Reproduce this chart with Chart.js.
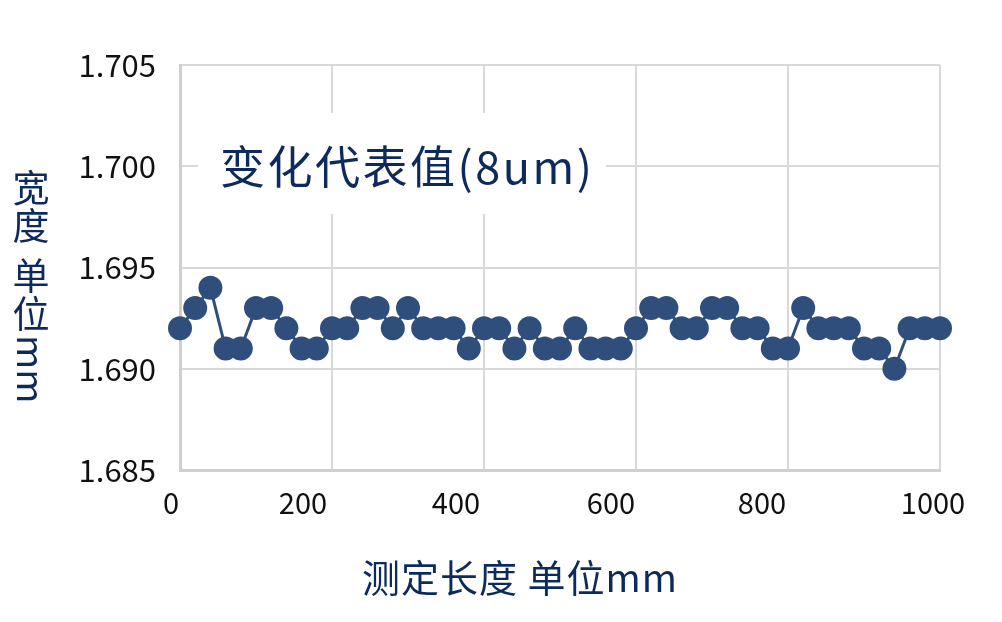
<!DOCTYPE html>
<html>
<head>
<meta charset="utf-8">
<script src="https://cdn.jsdelivr.net/npm/chart.js@4/dist/chart.umd.min.js"></script>
<style>
  html, body { margin: 0; padding: 0; background: #fff; }
  #wrap { width: 1002px; height: 622px; }
</style>
</head>
<body>
<div id="wrap"><canvas id="chart" width="1002" height="622"></canvas></div>
<script>
// measurement positions (mm) and width readings (mm)
const positions = [
  0, 20, 40, 60, 80, 100, 120, 140, 160, 180,
  200, 220, 240, 260, 280, 300, 320, 340, 360, 380,
  400, 420, 440, 460, 480, 500, 520, 540, 560, 580,
  600, 620, 640, 660, 680, 700, 720, 740, 760, 780,
  800, 820, 840, 860, 880, 900, 920, 940, 960, 980, 1000
];
const widths = [
  1.692, 1.693, 1.694, 1.691, 1.691, 1.693, 1.693, 1.692, 1.691, 1.691,
  1.692, 1.692, 1.693, 1.693, 1.692, 1.693, 1.692, 1.692, 1.692, 1.691,
  1.692, 1.692, 1.691, 1.692, 1.691, 1.691, 1.692, 1.691, 1.691, 1.691,
  1.692, 1.693, 1.693, 1.692, 1.692, 1.693, 1.693, 1.692, 1.692, 1.691,
  1.691, 1.693, 1.692, 1.692, 1.692, 1.691, 1.691, 1.690, 1.692, 1.692, 1.692
];
const xTicks = [0, 200, 400, 600, 800, 1000];
const yTicks = [1.685, 1.690, 1.695, 1.700, 1.705];

const xTitle = "测定长度 单位mm";
const yTitleChars = ["宽", "度", " ", "单", "位"];
const yTitleLatin = "mm";
const noteText = "变化代表值(8um)";

// the x labels in the original sit a little left of their grid lines
const xLabelShift = [-9, -29, -28, -25, -26, -7];

const navy = "#0d2a5c";
const markColor = "#304e7c";
const cjk = "'Noto Sans CJK SC', 'Noto Sans', sans-serif";

// titles and the note box are drawn over the grid, under the line
const textPlugin = {
  id: "textPlugin",
  beforeDatasetsDraw(chart) {
    const ctx = chart.ctx;
    const area = chart.chartArea;
    const xScale = chart.scales.x;
    ctx.save();

    // white box behind the note, hides the grid there
    ctx.fillStyle = "#ffffff";
    ctx.fillRect(area.left + 18, area.top + 48, 408, 101);

    ctx.fillStyle = navy;
    ctx.font = "45px " + cjk;
    ctx.letterSpacing = "2.5px";
    ctx.textBaseline = "middle";
    ctx.textAlign = "left";
    ctx.fillText(noteText, area.left + 40, area.top + 102);
    ctx.letterSpacing = "0px";

    // x tick labels
    ctx.fillStyle = "#111";
    ctx.font = "29px " + cjk;
    ctx.textAlign = "center";
    xTicks.forEach((v, i) => {
      ctx.fillText(String(v), xScale.getPixelForValue(v) + xLabelShift[i], area.bottom + 33);
    });

    // x axis title
    ctx.fillStyle = navy;
    ctx.font = "38px " + cjk;
    ctx.letterSpacing = "1px";
    ctx.fillText(xTitle, (area.left + area.right) / 2 - 40, 578);
    ctx.letterSpacing = "0px";

    // y axis title, upright CJK stacked vertically
    ctx.font = "37px " + cjk;
    ctx.textAlign = "center";
    let y = 188;
    yTitleChars.forEach(ch => {
      if (ch === " ") { y += 12; return; }
      ctx.fillText(ch, 31, y);
      y += 38;
    });
    // latin part rotated clockwise
    ctx.translate(31, y - 19);
    ctx.rotate(Math.PI / 2);
    ctx.textAlign = "left";
    ctx.fillText(yTitleLatin, 2, 0);
    ctx.restore();
  }
};

new Chart(document.getElementById("chart"), {
  type: "line",
  data: {
    labels: positions,
    datasets: [{
      data: positions.map((p, i) => ({ x: p, y: widths[i] })),
      borderColor: markColor,
      backgroundColor: markColor,
      borderWidth: 3,
      pointRadius: 12,
      pointBorderWidth: 0,
      pointBackgroundColor: markColor,
      tension: 0,
      clip: false
    }]
  },
  plugins: [textPlugin],
  options: {
    responsive: false,
    animation: false,
    layout: { padding: { top: 65, right: 62, bottom: 0, left: 0 } },
    plugins: {
      legend: { display: false },
      tooltip: { enabled: false }
    },
    scales: {
      x: {
        type: "linear",
        min: 0,
        max: 1000,
        afterBuildTicks: (scale) => { scale.ticks = xTicks.map(v => ({ value: v })); },
        afterFit: (scale) => { scale.height = 152; },
        grid: { color: "#d9d9d9", lineWidth: 2, drawTicks: false },
        border: { color: "#cfcfcf", width: 3 },
        ticks: { display: false }
      },
      y: {
        min: 1.685,
        max: 1.705,
        afterBuildTicks: (scale) => { scale.ticks = yTicks.map(v => ({ value: v })); },
        afterFit: (scale) => { scale.width = 180; },
        grid: { color: "#d9d9d9", lineWidth: 2, drawTicks: false },
        border: { color: "#cfcfcf", width: 3 },
        ticks: {
          padding: 24,
          color: "#111",
          font: { family: cjk, size: 31 },
          callback: (v) => Number(v).toFixed(3)
        }
      }
    }
  }
});
</script>
</body>
</html>
